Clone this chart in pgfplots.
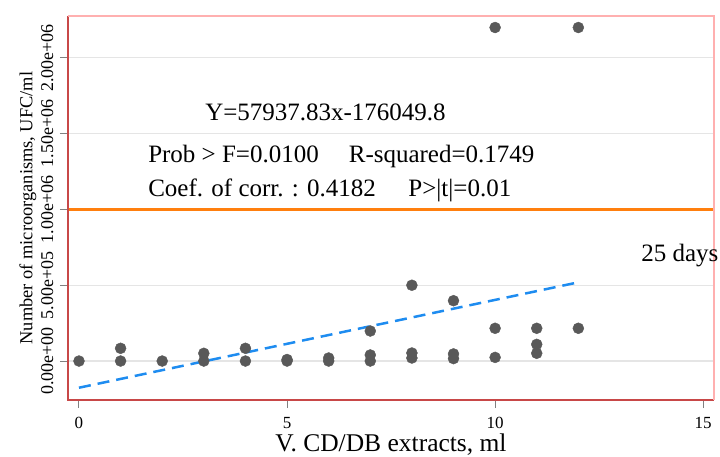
\documentclass[border=0pt]{standalone}
\usepackage{pgfplots}
\pgfplotsset{compat=1.18}
\usepackage{fontspec}
\setmainfont{Liberation Serif}
\definecolor{ptgray}{HTML}{595959}
\definecolor{regblue}{HTML}{1E8CF0}
\definecolor{reforange}{HTML}{FF7F0E}
\definecolor{frameRed}{HTML}{C84848}
\definecolor{framePink}{HTML}{FFB0B0}
\begin{document}
\begin{tikzpicture}
\begin{axis}[
  scale only axis, width=646pt, height=384pt,
  xmin=-0.264, xmax=15.26, ymin=-257000, ymax=2276000,
  xtick={0,5,10,15},
  ytick={0,500000,1000000,1500000,2000000},
  yticklabels={0.00e+00,5.00e+05,1.00e+06,1.50e+06,2.00e+06},
  scaled y ticks=false,
  /pgf/number format/assume math mode=true,
  xtick pos=bottom, ytick pos=left,
  tick align=outside, major tick length=8pt,
  tick style={gray, line width=1pt},
  yticklabel style={rotate=90, anchor=south, font=\fontsize{18}{21}\selectfont},
  yticklabel shift=3pt,
  xticklabel style={font=\fontsize{17}{20}\selectfont},
  xticklabel shift=6pt,
  ymajorgrids, grid style={black!10, line width=1.2pt},
  axis line style={draw=none},
  clip=false,
  xlabel={V. CD/DB extracts, ml},
  ylabel={Number of microorganisms, UFC/ml},
  xlabel style={at={(axis description cs:0.5,-0.116)}, anchor=center, font=\fontsize{25.5}{29}\selectfont},
  ylabel style={at={(axis description cs:-0.062,0.5)}, anchor=center, font=\fontsize{18.4}{21}\selectfont},
]
\addplot[reforange, line width=2.5pt, forget plot] coordinates {(-0.264,1000000) (15.26,1000000)};
\addplot[only marks, mark=*, mark size=5.5pt, ptgray, mark options={draw=ptgray, fill=ptgray}] coordinates {
(0,0)
(1,0) (1,84000)
(2,0)
(3,0) (3,51000)
(4,0) (4,84000)
(5,0) (5,10000)
(6,0) (6,20000)
(7,0) (7,40000) (7,198000)
(8,20000) (8,53000) (8,500000)
(9,16000) (9,47000) (9,398000)
(10,24000) (10,216000) (10,2200000)
(11,51000) (11,110000) (11,216000)
(12,216000) (12,2200000)
};
\addplot[regblue, line width=2.5pt, dash pattern=on 12pt off 7pt] coordinates {(0,-176049.8) (12,519204.2)};
\draw[frameRed, line width=1.5pt] (rel axis cs:0,1) -- (rel axis cs:0,0) -- (rel axis cs:1,0);
\draw[framePink, line width=1.5pt] (rel axis cs:0,1) -- (rel axis cs:1,1) -- (rel axis cs:1,0);
\node[anchor=west, inner sep=0pt, font=\fontsize{25}{29}\selectfont] at (axis cs:3.03,1642000) {Y=57937.83x-176049.8};
\node[anchor=west, inner sep=0pt, font=\fontsize{25}{29}\selectfont] at (axis cs:1.66,1346000) {Prob > F=0.0100\hspace{1.2em}R-squared=0.1749};
\node[anchor=west, inner sep=0pt, font=\fontsize{25}{29}\selectfont] at (axis cs:1.66,1128000) {Coef. of corr. : 0.4182\hspace{1.3em}P>|t|=0.01};
\node[anchor=west, inner sep=0pt, font=\fontsize{25}{29}\selectfont] at (axis cs:13.51,693000) {25 days};
\coordinate (sw) at (rel axis cs:0,0);
\coordinate (ne) at (rel axis cs:1,1);
\end{axis}
\pgfresetboundingbox
\path[use as bounding box] ([xshift=-68pt,yshift=-57pt]sw) rectangle ([xshift=6pt,yshift=16pt]ne);
\end{tikzpicture}
\end{document}
